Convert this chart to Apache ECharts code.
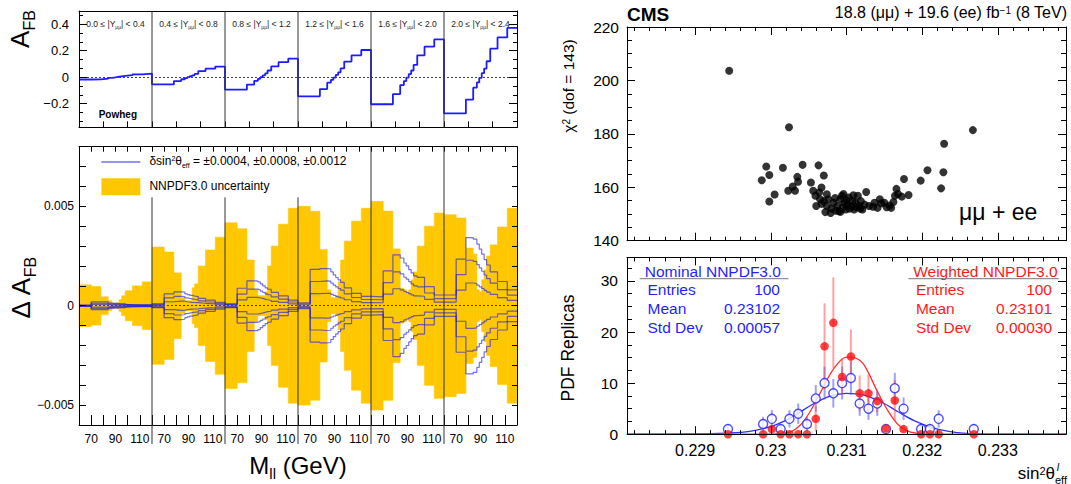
<!DOCTYPE html>
<html><head><meta charset="utf-8">
<script src="https://cdn.jsdelivr.net/npm/echarts@6/dist/echarts.min.js"></script>
<style>html,body{margin:0;padding:0;background:#fff}#c{width:1071px;height:484px}</style>
</head><body><div id="c"></div>
<script>
const FF = '"Liberation Sans", Arial, Helvetica, sans-serif';

// ---------------- DATA ----------------
const massEdges = [60, 70, 78, 84, 87, 89, 91, 93, 95, 98, 104, 112, 120];
const rapidityEdges = ['0.0', '0.4', '0.8', '1.2', '1.6', '2.0', '2.4'];
const massTickLabels = ['70', '90', '110'];

// Powheg A_FB per rapidity bin (rows) and mass bin (columns)
const afbPowheg = [
  [-0.018, -0.017, -0.012, -0.006, -0.003, 0.000, 0.003, 0.006, 0.010, 0.015, 0.021, 0.026],
  [-0.054, -0.054, -0.030, -0.016, -0.008, 0.000, 0.007, 0.014, 0.024, 0.046, 0.064, 0.080],
  [-0.095, -0.095, -0.056, -0.028, -0.013, 0.000, 0.014, 0.028, 0.050, 0.081, 0.113, 0.140],
  [-0.145, -0.145, -0.090, -0.042, -0.021, -0.003, 0.017, 0.036, 0.066, 0.118, 0.165, 0.205],
  [-0.205, -0.205, -0.128, -0.060, -0.030, -0.004, 0.023, 0.050, 0.092, 0.165, 0.230, 0.285],
  [-0.274, -0.274, -0.170, -0.080, -0.040, -0.005, 0.030, 0.065, 0.120, 0.215, 0.300, 0.372]
];

// NNPDF3.0 uncertainty (half width of the band) on A_FB
const pdfUncertainty = [
  [0.00105, 0.00097, 0.00045, 0.00025, 0.00013, 0.00010, 0.00015, 0.00030, 0.00050, 0.00075, 0.00100, 0.00120],
  [0.00295, 0.00270, 0.00165, 0.00040, 0.00025, 0.00025, 0.00025, 0.00090, 0.00110, 0.00200, 0.00280, 0.00345],
  [0.00417, 0.00387, 0.00230, 0.00080, 0.00050, 0.00050, 0.00050, 0.00070, 0.00200, 0.00300, 0.00410, 0.00490],
  [0.00500, 0.00475, 0.00283, 0.00080, 0.00040, 0.00040, 0.00050, 0.00120, 0.00230, 0.00325, 0.00425, 0.00490],
  [0.00525, 0.00476, 0.00286, 0.00088, 0.00080, 0.00070, 0.00080, 0.00130, 0.00170, 0.00300, 0.00400, 0.00466],
  [0.00458, 0.00441, 0.00290, 0.00260, 0.00080, 0.00070, 0.00130, 0.00180, 0.00250, 0.00306, 0.00396, 0.00490]
];

// Delta A_FB read for the largest shift (delta sin2theta = 0.0012)
const dAfbAtMaxShift = [
  [0.00003, 0.00020, 0.00020, 0.00013, 0.00012, 0.00012, 0.00011, 0.00010, 0.00010, 0.00006, 0.00005, 0.00004],
  [0.00010, 0.00060, 0.00070, 0.00068, 0.00060, 0.00056, 0.00052, 0.00049, 0.00046, 0.00037, 0.00028, 0.00017],
  [0.00010, 0.00088, 0.00125, 0.00125, 0.00120, 0.00110, 0.00100, 0.00090, 0.00083, 0.00067, 0.00050, 0.00028],
  [0.00015, 0.00183, 0.00187, 0.00185, 0.00170, 0.00155, 0.00142, 0.00130, 0.00117, 0.00090, 0.00062, 0.00047],
  [0.00045, 0.00175, 0.00256, 0.00240, 0.00215, 0.00200, 0.00182, 0.00165, 0.00150, 0.00143, 0.00096, 0.00054],
  [0.00054, 0.00234, 0.00343, 0.00335, 0.00310, 0.00285, 0.00260, 0.00232, 0.00205, 0.00170, 0.00122, 0.00080]
];
const maxShift = 0.0012;
const sinShifts = [0.0004, 0.0008, 0.0012];

// chi2 vs fitted sin2theta for the PDF replicas
const chi2Points = [
  [0.22945, 203.6], [0.23024, 182.5], [0.23267, 181.4], [0.23229, 176.3], [0.23228, 165.6],
  [0.23225, 159.6], [0.23207, 166.4], [0.23198, 162.5],
  [0.22988, 162.6], [0.22994, 167.8], [0.22998, 164.6], [0.22998, 154.7], [0.23005, 157.3],
  [0.23016, 167.3], [0.23023, 158.7], [0.23029, 160.3], [0.23032, 158.7], [0.23035, 163.9],
  [0.23036, 162.1], [0.23042, 168.4],
  [0.23053, 161.8], [0.23056, 158.7], [0.23059, 156.8], [0.23060, 153.0], [0.23063, 168.2],
  [0.23064, 158.1], [0.23067, 159.9], [0.23070, 164.4], [0.23070, 154.8], [0.23074, 157.4],
  [0.23076, 155.5], [0.23074, 153.0], [0.23072, 150.7], [0.23079, 150.4], [0.23083, 154.2],
  [0.23088, 153.0], [0.23090, 151.0], [0.23092, 155.5], [0.23094, 156.8], [0.23097, 154.2],
  [0.23099, 151.7], [0.23101, 153.5], [0.23103, 156.2], [0.23106, 153.0], [0.23108, 154.8],
  [0.23110, 151.7], [0.23112, 154.2], [0.23115, 156.8], [0.23117, 153.0], [0.23119, 154.8],
  [0.23121, 151.7], [0.23124, 153.5], [0.23126, 158.2], [0.23135, 152.7], [0.23137, 154.2],
  [0.23141, 152.3], [0.23144, 155.5], [0.23146, 154.0], [0.23150, 154.2], [0.23157, 153.2],
  [0.23159, 152.3], [0.23162, 154.5], [0.23164, 156.8], [0.23166, 159.4], [0.23168, 157.5],
  [0.23173, 156.5], [0.23176, 163.1], [0.23182, 157.1],
  [0.23080, 152.0], [0.23086, 151.2], [0.23095, 152.5], [0.23104, 152.0], [0.23113, 152.6],
  [0.23085, 156.0], [0.23067, 153.8], [0.23096, 157.5], [0.23118, 152.0], [0.23130, 153.0],
  [0.23153, 152.5], [0.23065, 155.5], [0.23109, 157.0], [0.23092, 150.8], [0.23100, 155.2]
];

// PDF replica histograms (bin centres)
const replicaBinCenters = [0.229434, 0.229898, 0.230014, 0.230130, 0.230246, 0.230362, 0.230478,
  0.230594, 0.230710, 0.230826, 0.230942, 0.231058, 0.231174, 0.231290, 0.231406, 0.231522,
  0.231638, 0.231754, 0.231986, 0.232102, 0.232218, 0.232682];
const nominalCounts = [1, 2, 3, 1, 3, 4, 2, 7, 10, 8, 10, 11, 6, 5, 6, 1, 9, 5, 1, 1, 3, 1];
const nominalErrors = [1, 1.4, 1.7, 1, 1.7, 2, 1.4, 2.6, 3.2, 2.8, 3.2, 3.3, 2.4, 2.2, 2.4, 1, 3, 2.2, 1, 1, 1.7, 1];
const weightedCounts = [0, 0, 1, 0, 0, 0, 0, 3, 17.2, 21.8, 11.2, 15.2, 8, 8, 6.5, 1.1, 6.6, 1.0, 0, 0, 0, 0];
const weightedErrors = [0, 0, 0.5, 0, 0, 0, 0, 2.5, 8.4, 8.9, 3.5, 5.3, 3.5, 3.8, 2.2, 0.7, 4, 0.5, 0, 0, 0, 0];

// Gaussian fit curves
const nominalFit = [[0.2281, 0], [0.2290, 0.05], [0.2294, 0.2], [0.22972, 0.55], [0.2300, 1.5],
  [0.23017, 2.5], [0.23034, 3.9], [0.23056, 5.9], [0.23079, 7.5], [0.2310, 8.0], [0.23122, 7.7],
  [0.23146, 6.3], [0.23168, 4.4], [0.2319, 2.6], [0.23213, 1.3], [0.23235, 0.55], [0.23258, 0.18],
  [0.2330, 0.02], [0.2339, 0]];
const weightedFit = [[0.2281, 0], [0.2300, 0.02], [0.23025, 0.4], [0.23039, 1.8], [0.23051, 4.2],
  [0.23065, 8.0], [0.23083, 12.8], [0.2310, 15.1], [0.23112, 14.9], [0.23123, 13.6], [0.23141, 8.3],
  [0.23155, 4.5], [0.23168, 1.9], [0.23181, 0.6], [0.2320, 0.08], [0.2322, 0], [0.2339, 0]];

const statsNominal = {title: 'Nominal NNPDF3.0', rows: [['Entries', '100'], ['Mean', '0.23102'], ['Std Dev', '0.00057']]};
const statsWeighted = {title: 'Weighted NNPDF3.0', rows: [['Entries', '100'], ['Mean', '0.23101'], ['Std Dev', '0.00030']]};

// ---------------- BUILD ----------------
const PANEL = 60;
const panelX = (p, m) => PANEL * p + (m - massEdges[0]);

function histLine(valueAt) {
  const pts = [];
  for (let p = 0; p < 6; p++)
    for (let i = 0; i < 12; i++) pts.push([panelX(p, massEdges[i]), valueAt(p, i)]);
  pts.push([PANEL * 6, valueAt(5, 11)]);
  return pts;
}

const bandData = [];
for (let p = 0; p < 6; p++)
  for (let i = 0; i < 12; i++)
    bandData.push([panelX(p, massEdges[i]), panelX(p, massEdges[i + 1]), pdfUncertainty[p][i]]);

function rs(s, extra) {
  const base = Object.assign({fontFamily: FF}, extra || {});
  return {
    m: Object.assign({}, base, {fontSize: s, lineHeight: Math.round(s * 1.15), padding: [0, 0, Math.round(s * 0.18), 0]}),
    sub: Object.assign({}, base, {fontSize: Math.round(s * 0.62), lineHeight: Math.round(s * 0.62), verticalAlign: 'bottom'}),
    sup: Object.assign({}, base, {fontSize: Math.round(s * 0.62), lineHeight: Math.round(s * 0.62), verticalAlign: 'top'})
  };
}

const tickStyle = {lineStyle: {color: '#000', width: 1}};
function mkAxis(o) {
  return Object.assign({
    type: 'value', z: 10,
    axisLine: {show: true, onZero: false, lineStyle: {color: '#000', width: 1}},
    axisTick: {show: true, inside: true, length: 8, lineStyle: {color: '#000', width: 1}},
    splitLine: {show: false},
    axisLabel: {show: false}
  }, o);
}

const lblFont = (s) => ({fontFamily: FF, fontSize: s, color: '#000'});

const xAxes = [
  mkAxis({gridIndex: 0, position: 'bottom', min: 0, max: 360, interval: 20, axisTick: {show: true, inside: true, length: 6, lineStyle: tickStyle.lineStyle}}),
  mkAxis({gridIndex: 0, position: 'top', min: 0, max: 360, interval: 20, axisTick: {show: false}}),
  mkAxis({gridIndex: 1, position: 'bottom', min: 0, max: 360, interval: 10,
    axisTick: {show: true, inside: true, length: 10, lineStyle: tickStyle.lineStyle},
    axisLabel: Object.assign({show: true, margin: 8, formatter: (v) => {
      const r = Math.round(v) % PANEL;
      return r === 10 ? massTickLabels[0] : r === 30 ? massTickLabels[1] : r === 50 ? massTickLabels[2] : '';
    }}, lblFont(12))}),
  mkAxis({gridIndex: 1, position: 'top', min: 0, max: 360, interval: 10, axisTick: {show: true, inside: true, length: 5, lineStyle: tickStyle.lineStyle}}),
  mkAxis({gridIndex: 2, position: 'bottom', min: 0.2281, max: 0.2339,
    minorTick: {show: true, splitNumber: 5, length: 4, lineStyle: {color: '#000'}}}),
  mkAxis({gridIndex: 2, position: 'top', min: 0.2281, max: 0.2339,
    minorTick: {show: true, splitNumber: 5, length: 4, lineStyle: {color: '#000'}}}),
  mkAxis({gridIndex: 3, position: 'bottom', min: 0.2281, max: 0.2339,
    minorTick: {show: true, splitNumber: 5, length: 4, lineStyle: {color: '#000'}},
    axisLabel: Object.assign({show: true, margin: 8, formatter: (v) => {
      const k = v * 1000; return Math.abs(k - Math.round(k)) < 1e-6 ? String(+v.toFixed(3)) : '';
    }}, lblFont(16))}),
  mkAxis({gridIndex: 3, position: 'top', min: 0.2281, max: 0.2339,
    minorTick: {show: true, splitNumber: 5, length: 4, lineStyle: {color: '#000'}}})
];

const yAxes = [
  mkAxis({gridIndex: 0, position: 'left', min: -0.38, max: 0.5,
    minorTick: {show: true, splitNumber: 3, length: 4, lineStyle: {color: '#000'}},
    axisLabel: Object.assign({show: true, margin: 10, formatter: (v) => {
      const r = Math.round(v * 10) / 10;
      if (Math.abs(v - r) > 1e-6) return '';
      if (r === 0.4 || r === 0.2 || r === -0.2) return r < 0 ? '\u2212' + Math.abs(r) : String(r);
      return r === 0 ? '0' : '';
    }}, lblFont(13))}),
  mkAxis({gridIndex: 0, position: 'right', min: -0.38, max: 0.5,
    minorTick: {show: true, splitNumber: 3, length: 4, lineStyle: {color: '#000'}}}),
  mkAxis({gridIndex: 1, position: 'left', min: -0.006, max: 0.008, interval: 0.001,
    axisTick: {show: true, inside: true, length: 7, lineStyle: tickStyle.lineStyle},
    axisLabel: Object.assign({show: true, margin: 5, formatter: (v) => {
      if (Math.abs(v - 0.005) < 1e-9) return '0.005';
      if (Math.abs(v) < 1e-9) return '0';
      if (Math.abs(v + 0.005) < 1e-9) return '\u22120.005';
      return '';
    }}, lblFont(12))}),
  mkAxis({gridIndex: 1, position: 'right', min: -0.006, max: 0.008, interval: 0.001,
    axisTick: {show: true, inside: true, length: 5, lineStyle: tickStyle.lineStyle}}),
  mkAxis({gridIndex: 2, position: 'left', min: 140, max: 220, interval: 20,
    minorTick: {show: true, splitNumber: 4, length: 5, lineStyle: {color: '#000'}},
    axisLabel: Object.assign({show: true, margin: 8}, lblFont(15.5))}),
  mkAxis({gridIndex: 2, position: 'right', min: 140, max: 220, interval: 20,
    minorTick: {show: true, splitNumber: 4, length: 5, lineStyle: {color: '#000'}}}),
  mkAxis({gridIndex: 3, position: 'left', min: 0, max: 34.6, interval: 10,
    minorTick: {show: true, splitNumber: 4, length: 5, lineStyle: {color: '#000'}},
    axisLabel: Object.assign({show: true, margin: 9, formatter: (v) => (Math.abs(v % 10) < 1e-9 ? String(v) : '')}, lblFont(15.5))}),
  mkAxis({gridIndex: 3, position: 'right', min: 0, max: 34.6, interval: 10,
    minorTick: {show: true, splitNumber: 4, length: 5, lineStyle: {color: '#000'}}})
];

const dotted = {type: [2, 2], color: '#444', width: 1};
const blueShift = 'rgba(25,25,235,0.62)';

const series = [];
series.push({
  type: 'line', xAxisIndex: 0, yAxisIndex: 0, step: 'end', symbol: 'none', z: 3,
  lineStyle: {color: '#1c1cff', width: 1.8},
  data: histLine((p, i) => afbPowheg[p][i]),
  markLine: {silent: true, symbol: ['none', 'none'], label: {show: false}, lineStyle: dotted, data: [{yAxis: 0}]}
});
series.push({
  type: 'custom', xAxisIndex: 2, yAxisIndex: 2, z: 1,
  encode: {x: [0, 1], y: 2},
  data: bandData,
  renderItem: (params, api) => {
    const a = api.coord([api.value(0), api.value(2)]);
    const b = api.coord([api.value(1), -api.value(2)]);
    return {type: 'rect', shape: {x: a[0], y: a[1], width: b[0] - a[0], height: b[1] - a[1]},
      style: {fill: '#ffc700', stroke: '#ffc700', lineWidth: 0.6}};
  }
});
sinShifts.forEach((d, j) => {
  [1, -1].forEach((sgn, k) => {
    const s = {
      type: 'line', xAxisIndex: 2, yAxisIndex: 2, step: 'end', symbol: 'none', z: 4,
      lineStyle: {color: blueShift, width: 1.2},
      data: histLine((p, i) => sgn * dAfbAtMaxShift[p][i] * d / maxShift)
    };
    if (j === 0 && k === 0) {
      s.markLine = {silent: true, symbol: ['none', 'none'], label: {show: false}, lineStyle: dotted,
        data: [{yAxis: 0.005}, {yAxis: 0}, {yAxis: -0.005}]};
    }
    series.push(s);
  });
});
series.push({type: 'scatter', xAxisIndex: 4, yAxisIndex: 4, symbol: 'circle', symbolSize: 8,
  itemStyle: {color: '#000'}, data: chi2Points});
series.push({type: 'line', xAxisIndex: 6, yAxisIndex: 6, smooth: 0.35, symbol: 'none', z: 2,
  lineStyle: {color: '#3030ff', width: 1.3}, data: nominalFit});
series.push({type: 'line', xAxisIndex: 6, yAxisIndex: 6, smooth: 0.35, symbol: 'none', z: 2,
  lineStyle: {color: '#ff3030', width: 1.3}, data: weightedFit});
function errBars(counts, errs, color) {
  return {
    type: 'custom', xAxisIndex: 6, yAxisIndex: 6, z: 3,
    encode: {x: 0, y: 1},
    data: replicaBinCenters.map((x, i) => [x, counts[i], errs[i]]),
    renderItem: (params, api) => {
      const e = api.value(2);
      if (!e) return null;
      const a = api.coord([api.value(0), api.value(1) + e]);
      const b = api.coord([api.value(0), Math.max(0, api.value(1) - e)]);
      return {type: 'line', shape: {x1: a[0], y1: a[1], x2: b[0], y2: b[1]}, style: {stroke: color, lineWidth: 2}};
    }
  };
}
series.push(errBars(nominalCounts, nominalErrors, 'rgba(80,80,255,0.55)'));
series.push(errBars(weightedCounts, weightedErrors, 'rgba(255,70,70,0.5)'));
series.push({type: 'scatter', xAxisIndex: 6, yAxisIndex: 6, symbol: 'circle', symbolSize: 9, z: 5,
  itemStyle: {color: '#fff', borderColor: '#2020ff', borderWidth: 1.4},
  data: replicaBinCenters.map((x, i) => [x, nominalCounts[i]])});
series.push({type: 'scatter', xAxisIndex: 6, yAxisIndex: 6, symbol: 'circle', symbolSize: 8.5, z: 6,
  itemStyle: {color: '#ff1010'},
  data: replicaBinCenters.map((x, i) => [x, weightedCounts[i]])});

const option = {
  animation: false,
  backgroundColor: '#fff',
  textStyle: {fontFamily: FF},
  grid: [
    {left: 79, top: 11, width: 438, height: 116.4},
    {left: 79, top: 146.7, width: 438, height: 278.3},
    {left: 627, top: 27, width: 439, height: 213.7},
    {left: 627, top: 257.4, width: 439, height: 176.8}
  ],
  xAxis: xAxes,
  yAxis: yAxes,
  series: series
};

const chart = echarts.init(document.getElementById('c'), null, {renderer: 'svg'});
chart.setOption(option);

const X = (ai, v) => chart.convertToPixel({xAxisIndex: ai}, v);
const Y = (ai, v) => chart.convertToPixel({yAxisIndex: ai}, v);
const g = [];
const sepColor = '#333';
for (let p = 1; p < 6; p++) {
  const xt = X(0, PANEL * p);
  g.push({type: 'line', z: 20, shape: {x1: xt, y1: Y(0, 0.5), x2: xt, y2: Y(0, -0.38)}, style: {stroke: sepColor, lineWidth: 1}});
  const xb = X(2, PANEL * p);
  const top = p <= 3 ? Y(2, 0.00545) : Y(2, 0.008);
  g.push({type: 'line', z: 20, shape: {x1: xb, y1: top, x2: xb, y2: Y(2, -0.006) + 19}, style: {stroke: sepColor, lineWidth: 1}});
}
for (let p = 0; p < 6; p++) {
  g.push({type: 'text', z: 20, x: X(0, PANEL * p + 30), y: 24.7, style: {
    text: '{m|' + rapidityEdges[p] + ' \u2264 |Y}{sub|\u03bc\u03bc}{m|| < ' + rapidityEdges[p + 1] + '}',
    rich: rs(8.5, {fill: '#222'}), fill: '#222', align: 'center', verticalAlign: 'middle', textAlign: 'center', textVerticalAlign: 'middle'}});
}
const T = (x, y, text, size, opts) => Object.assign({type: 'text', z: 20, x: x, y: y, style: Object.assign({
  text: text, rich: rs(size), fill: '#000', fontFamily: FF, fontSize: size,
  align: 'left', verticalAlign: 'middle', textAlign: 'left', textVerticalAlign: 'middle'}, (opts && opts.style) || {})},
  (opts && opts.el) || {});
const C = {align: 'center', textAlign: 'center'};
const R = {align: 'right', textAlign: 'right'};
g.push({type: 'text', z: 20, x: 98.7, y: 114.2, style: {text: 'Powheg', fill: '#000', font: 'bold 10px ' + FF, align: 'left', verticalAlign: 'middle', textAlign: 'left', textVerticalAlign: 'middle'}});
g.push(T(22, 29, '{m|A}{sub|FB}', 26, {style: C, el: {rotation: Math.PI / 2}}));
g.push(T(23, 288, '{m|\u0394 A}{sub|FB}', 26, {style: C, el: {rotation: Math.PI / 2}}));
g.push(T(298, 467, '{m|M}{sub|ll}{m| (GeV)}', 24, {style: C}));
g.push({type: 'line', z: 20, shape: {x1: 101.4, y1: 162, x2: 140.3, y2: 162}, style: {stroke: blueShift, lineWidth: 1.3}});
g.push(T(149.4, 162, '{m|\u03b4sin}{sup|2}{m|\u03b8}{sub|eff}{m| = \u00b10.0004, \u00b10.0008, \u00b10.0012}', 12));
g.push({type: 'rect', z: 20, shape: {x: 101.4, y: 178.3, width: 38.9, height: 17}, style: {fill: '#ffc700'}});
g.push(T(149.4, 187.4, '{m|NNPDF3.0 uncertainty}', 12));
g.push({type: 'text', z: 20, x: 627, y: 14, style: {text: 'CMS', fill: '#000', font: 'bold 19px ' + FF, align: 'left', verticalAlign: 'middle', textAlign: 'left', textVerticalAlign: 'middle'}});
g.push(T(1067, 14, '{m|18.8 (\u03bc\u03bc) + 19.6 (ee) fb}{sup|\u22121}{m| (8 TeV)}', 16, {style: R}));
g.push(T(959, 214, '{m|\u03bc\u03bc + ee}', 23));
g.push(T(570, 86, '{m|\u03c7}{sup|2}{m| (dof = 143)}', 15.5, {style: C, el: {rotation: Math.PI / 2}}));
g.push(T(569, 348, '{m|PDF Replicas}', 17.5, {style: C, el: {rotation: Math.PI / 2}}));
g.push(T(1067, 475, '{m|sin}{sup|2}{m|\u03b8}{sub|eff}', 17, {style: R}));
g.push({type: 'text', z: 20, x: 1058, y: 467, style: {text: 'l', fill: '#000', font: 'italic 10.5px ' + FF, align: 'center', verticalAlign: 'middle', textAlign: 'center', textVerticalAlign: 'middle'}});
function statsBox(st, color, xl, xr, ul1, ul2) {
  g.push({type: 'text', z: 20, x: xl - 2.7, y: 271, style: {text: st.title, fill: color, font: '15.5px ' + FF, align: 'left', verticalAlign: 'middle', textAlign: 'left', textVerticalAlign: 'middle'}});
  g.push({type: 'line', z: 20, shape: {x1: ul1, y1: 278.7, x2: ul2, y2: 278.7}, style: {stroke: '#777', lineWidth: 1}});
  const ys = [289.9, 308.5, 327.7];
  st.rows.forEach((r, i) => {
    g.push({type: 'text', z: 20, x: xl, y: ys[i], style: {text: r[0], fill: color, font: '15.5px ' + FF, align: 'left', verticalAlign: 'middle', textAlign: 'left', textVerticalAlign: 'middle'}});
    g.push({type: 'text', z: 20, x: xr, y: ys[i], style: {text: r[1], fill: color, font: '15.5px ' + FF, align: 'right', verticalAlign: 'middle', textAlign: 'right', textVerticalAlign: 'middle'}});
  });
}
statsBox(statsNominal, '#1f1fff', 647.5, 780, 639.7, 788.4);
statsBox(statsWeighted, '#ff1a1a', 915.9, 1052, 908.4, 1058.8);

chart.setOption({graphic: {elements: g}});
</script>
</body></html>
